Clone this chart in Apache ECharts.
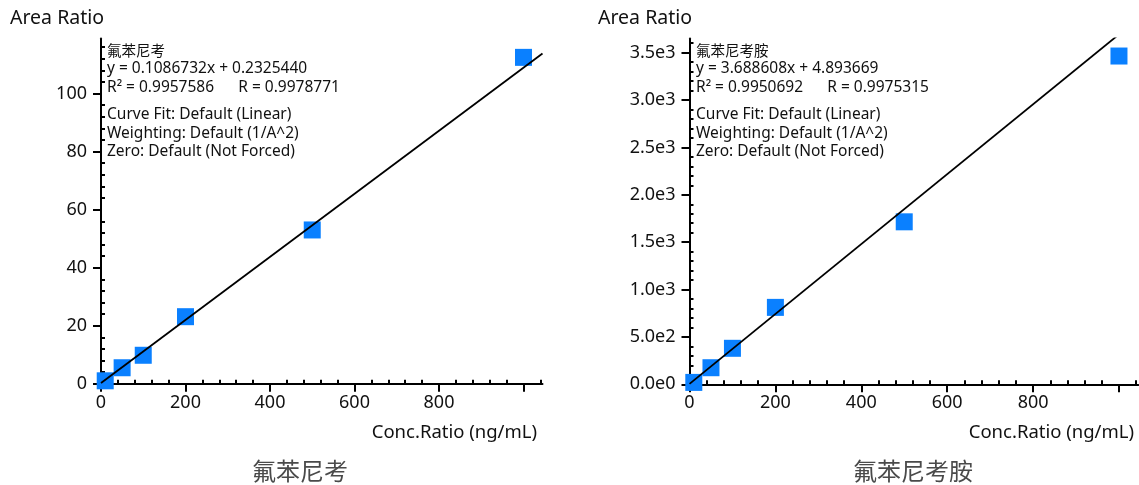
<!DOCTYPE html>
<html>
<head>
<meta charset="utf-8">
<script src="https://cdn.jsdelivr.net/npm/echarts@6/dist/echarts.min.js"></script>
<style>
html,body{margin:0;padding:0;background:#fff;}
#chart{width:1139px;height:485px;}
</style>
</head>
<body>
<div id="chart"></div>
<script>
// ---- data ----
const concLevels = [10, 50, 100, 200, 500, 1000];
const areaRatioA = [1.0, 5.5, 9.8, 23.1, 53.0, 112.5];      // 氟苯尼考
const areaRatioB = [20, 175, 380, 812, 1715, 3465];          // 氟苯尼考胺
const fitLineA = [[0, 0.23], [1045, 113.80]];                // y = 0.1086732x + 0.2325440
const fitLineB = [[0, 4.89], [1045, 3859.49]];               // y = 3.688608x + 4.893669

const xMajorTicks = [0, 200, 400, 600, 800, 1000];
const xLabelValues = [0, 200, 400, 600, 800];
const xMinorTicks = [40,80,120,160,240,280,320,360,440,480,520,560,640,680,720,760,840,880,920,960,1040];

const yMajorTicksA = [0, 20, 40, 60, 80, 100];
const yMinorTicksA = [4,8,12,16,24,28,32,36,44,48,52,56,64,68,72,76,84,88,92,96,104,108,112,116];
const yMajorTicksB = [0, 500, 1000, 1500, 2000, 2500, 3000, 3500];
const yTickLabelsB = ['0.0e0','5.0e2','1.0e3','1.5e3','2.0e3','2.5e3','3.0e3','3.5e3'];
const yMinorTicksB = [100,200,300,400,600,700,800,900,1100,1200,1300,1400,1600,1700,1800,1900,2100,2200,2300,2400,2600,2700,2800,2900,3100,3200,3300,3400,3600];

const titleA = '氟苯尼考';
const titleB = '氟苯尼考胺';
const yName = 'Area Ratio';
const xName = 'Conc.Ratio (ng/mL)';
const infoA = ['y = 0.1086732x + 0.2325440', 'R² = 0.9957586      R = 0.9978771'];
const infoB = ['y = 3.688608x + 4.893669', 'R² = 0.9950692      R = 0.9975315'];
const infoCommon = ['Curve Fit: Default (Linear)', 'Weighting: Default (1/A^2)', 'Zero: Default (Not Forced)'];

// ---- chart ----
const LATIN = '"Noto Sans", "Open Sans", sans-serif';
const CJK = '"Noto Sans CJK SC", sans-serif';
const chart = echarts.init(document.getElementById('chart'));

function xAxes(grid, max) {
  return [
    { type: 'value', gridIndex: grid, min: 0, max: max,
      splitLine: { show: false },
      axisLine: { show: true, onZero: false, lineStyle: { color: '#000', width: 2 } },
      axisTick: { show: true, length: 8, customValues: xMajorTicks, lineStyle: { color: '#000', width: 2 } },
      axisLabel: { show: true, customValues: xLabelValues, margin: 10, fontSize: 18, color: '#111', fontFamily: LATIN } },
    { type: 'value', gridIndex: grid, min: 0, max: max,
      splitLine: { show: false },
      axisLine: { show: false },
      axisTick: { show: true, length: 4, customValues: xMinorTicks, lineStyle: { color: '#000', width: 2 } },
      axisLabel: { show: false } }
  ];
}
function yAxes(grid, max, major, minor, labels) {
  return [
    { type: 'value', gridIndex: grid, min: 0, max: max,
      splitLine: { show: false },
      axisLine: { show: true, onZero: false, lineStyle: { color: '#000', width: 2 } },
      axisTick: { show: true, length: 8, customValues: major, lineStyle: { color: '#000', width: 2 } },
      axisLabel: { show: true, customValues: major, margin: 14, fontSize: 18, color: '#111', fontFamily: LATIN,
        formatter: labels ? (v => labels[major.indexOf(v)]) : (v => String(v)) } },
    { type: 'value', gridIndex: grid, min: 0, max: max,
      splitLine: { show: false },
      axisLine: { show: false },
      axisTick: { show: true, length: 4, customValues: minor, lineStyle: { color: '#000', width: 2 } },
      axisLabel: { show: false } }
  ];
}

function textEl(x, y, str, opt) {
  return { type: 'text', x: x, y: y, silent: true,
    style: Object.assign({ text: str, fill: '#111', fontSize: 15.5, fontFamily: LATIN, align: 'left', verticalAlign: 'middle' }, opt || {}) };
}
function infoBlock(x, title, lines) {
  const els = [];
  els.push(textEl(x, 50, title, { fontFamily: CJK, fontSize: 14.5 }));
  els.push(textEl(x, 69, lines[0]));
  els.push(textEl(x, 88, lines[1]));
  els.push(textEl(x, 115, infoCommon[0]));
  els.push(textEl(x, 133.5, infoCommon[1]));
  els.push(textEl(x, 152, infoCommon[2]));
  return els;
}

const graphics = [].concat(
  [textEl(10, 18, yName, { fontSize: 19.5 }), textEl(598, 18, yName, { fontSize: 19.5 })],
  [textEl(537, 433, xName, { fontSize: 18.5, align: 'right' }), textEl(1134, 433, xName, { fontSize: 18.5, align: 'right' })],
  [textEl(300, 471, titleA, { fontSize: 24, fontFamily: CJK, fill: '#4a4a4a', align: 'center' }),
   textEl(913, 471, titleB, { fontSize: 24, fontFamily: CJK, fill: '#4a4a4a', align: 'center' })],
  infoBlock(107, titleA, infoA),
  infoBlock(696, titleB, infoB)
);

const option = {
  animation: false,
  backgroundColor: '#fff',
  grid: [
    { left: 101, right: 596.5, top: 38.5, bottom: 101.3 },
    { left: 689.5, right: 0.7, top: 38.5, bottom: 100.7 }
  ],
  xAxis: [].concat(xAxes(0, 1045), xAxes(1, 1045)),
  yAxis: [].concat(yAxes(0, 119, yMajorTicksA, yMinorTicksA, null), yAxes(1, 3650, yMajorTicksB, yMinorTicksB, yTickLabelsB)),
  graphic: graphics,
  series: [
    { type: 'scatter', xAxisIndex: 0, yAxisIndex: 0, symbol: 'rect', symbolSize: 17,
      itemStyle: { color: '#0A80FF', opacity: 1 }, z: 2,
      data: concLevels.map((c, i) => [c, areaRatioA[i]]) },
    { type: 'line', xAxisIndex: 0, yAxisIndex: 0, data: fitLineA, symbol: 'none', clip: true,
      lineStyle: { color: '#000', width: 1.8 }, z: 3 },
    { type: 'scatter', xAxisIndex: 2, yAxisIndex: 2, symbol: 'rect', symbolSize: 17,
      itemStyle: { color: '#0A80FF', opacity: 1 }, z: 2,
      data: concLevels.map((c, i) => [c, areaRatioB[i]]) },
    { type: 'line', xAxisIndex: 2, yAxisIndex: 2, data: fitLineB, symbol: 'none', clip: true,
      lineStyle: { color: '#000', width: 1.8 }, z: 3 }
  ]
};
chart.setOption(option);
</script>
</body>
</html>
